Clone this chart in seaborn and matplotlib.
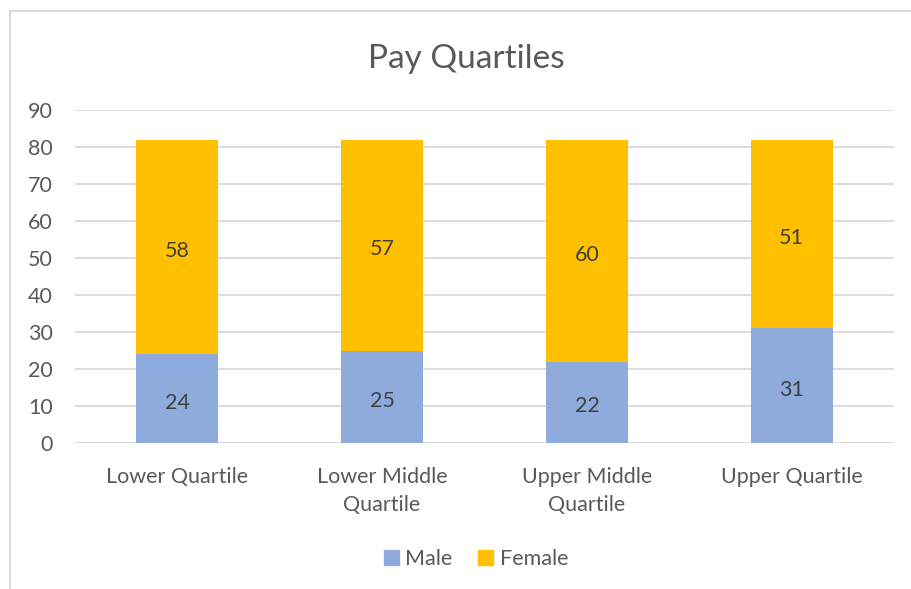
import numpy as np
import pandas as pd
import seaborn as sns
from matplotlib import pyplot as plt
from matplotlib.patches import Rectangle, Patch

# data
quartiles = ['Lower Quartile', 'Lower Middle\nQuartile', 'Upper Middle\nQuartile', 'Upper Quartile']
male = [24, 25, 22, 31]
female = [58, 57, 60, 51]

male_col = '#8FAADC'
female_col = '#FFC000'
text_col = '#595959'

df = pd.DataFrame({'quartile': quartiles, 'male': male, 'female': female})
df['total'] = df['male'] + df['female']

sns.set_style('white')
plt.rcParams['font.family'] = ['Lato', 'DejaVu Sans']

fig = plt.figure(figsize=(9.11, 5.89), dpi=100)
ax = fig.add_axes([75/911, 1-443/589, (894-75)/911, (443-110)/589])

# stacked bars: total (female on top) then male drawn over it
sns.barplot(data=df, x='quartile', y='total', color=female_col, width=0.4,
            saturation=1, linewidth=0, ax=ax, zorder=3)
sns.barplot(data=df, x='quartile', y='male', color=male_col, width=0.4,
            saturation=1, linewidth=0, ax=ax, zorder=4)

# segment labels, nudged down a bit like Excel does
for i, (m, f) in enumerate(zip(male, female)):
    for val, ypos in [(m, m / 2), (f, m + f / 2)]:
        ax.annotate(str(val), (i, ypos), xytext=(0, -3), textcoords='offset points',
                    ha='center', va='center', fontsize=15.5, color='#404040', zorder=5)

ax.set_ylim(0, 90)
ax.set_xlim(-0.5, 3.5)
ax.set_yticks(range(0, 91, 10))
ax.yaxis.grid(True, color='#D9D9D9', linewidth=1.3, zorder=0)
ax.set_axisbelow(True)
for s in ax.spines.values():
    s.set_visible(False)
ax.tick_params(axis='both', length=0, labelsize=15.5, colors=text_col)
ax.tick_params(axis='x', pad=17)
ax.tick_params(axis='y', pad=16)
for lab in ax.get_xticklabels():
    lab.set_linespacing(1.5)
ax.set_xlabel('')
ax.set_ylabel('')

fig.text(466/911, 1-59/589, 'Pay Quartiles', ha='center', va='center', fontsize=24, color=text_col)

handles = [Patch(color=male_col, label='Male'), Patch(color=female_col, label='Female')]
fig.legend(handles=handles, loc='center', bbox_to_anchor=(476/911, 1-559/589), ncol=2,
           frameon=False, fontsize=15.5, labelcolor=text_col, handlelength=0.7, handleheight=0.7,
           handletextpad=0.3, columnspacing=1.2)

# chart border (clipped at right and bottom in the source)
fig.patches.append(Rectangle((10/911, -0.05), 1.0, 1 - 11/589 + 0.05, transform=fig.transFigure,
                             fill=False, edgecolor='#D9D9D9', linewidth=1.5))

fig.savefig('out.png', dpi=100)
